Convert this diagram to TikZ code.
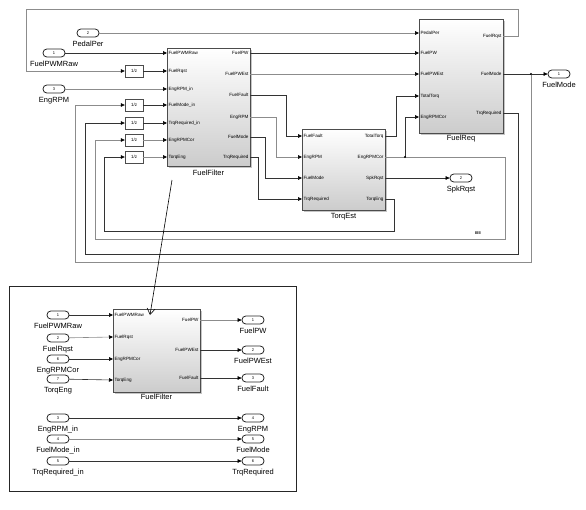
\documentclass[tikz,border=0pt]{standalone}
\usepackage{fontspec}
\setmainfont{Liberation Sans}
\usetikzlibrary{arrows.meta, positioning, shadows}

\begin{document}
\begin{tikzpicture}[
    x=1pt, y=-1pt,
    blk/.style={rectangle, draw=black!70, top color=white, bottom color=black!20, line width=0.5pt,
                drop shadow={shadow xshift=1.8pt, shadow yshift=-1.8pt, fill=black!45}, inner sep=0pt},
    dly/.style={rectangle, draw=black!70, fill=white, minimum width=18pt, minimum height=12pt, inner sep=0pt,
                drop shadow={shadow xshift=1.2pt, shadow yshift=-1.2pt, fill=black!40}, font=\fontsize{4.5}{5}\selectfont},
    prt/.style={rectangle, draw=black!85, fill=white, rounded corners=3.8pt, line width=0.8pt,
                minimum width=22pt, minimum height=8pt, inner sep=0pt, font=\fontsize{4}{4}\selectfont},
    pl/.style={font=\fontsize{4.6}{5}\selectfont, inner sep=1.3pt},
    lbl/.style={font=\fontsize{7.5}{8}\selectfont, inner sep=0.5pt},
    arr/.style={-{Triangle[length=4pt, width=3.6pt, black]}, draw=black!80, line width=0.6pt},
    arrg/.style={arr, draw=black!45},
    dot/.style={circle, fill=black, inner sep=0pt, minimum size=2.4pt}
]
\useasboundingbox (0,0) rectangle (586,509);

% top level model
\node[blk, minimum width=83pt, minimum height=118pt] (ff) at (208.5,107) {};
\node[lbl, below=3pt of ff] (ff-n) {FuelFilter};
\node[blk, minimum width=83pt, minimum height=81pt] (te) at (343.5,169.5) {};
\node[lbl, below=2pt of te] (te-n) {TorqEst};
\node[blk, minimum width=84pt, minimum height=114pt] (fr) at (461,76) {};
\node[lbl, below=1.5pt of fr] (fr-n) {FuelReq};

\coordinate (ff-i1) at (167,53);  \coordinate (ff-i2) at (167,71);  \coordinate (ff-i3) at (167,89);
\coordinate (ff-i4) at (167,105); \coordinate (ff-i5) at (167,123); \coordinate (ff-i6) at (167,140);
\coordinate (ff-i7) at (167,157);
\coordinate (ff-o1) at (250,53);  \coordinate (ff-o2) at (250,74);  \coordinate (ff-o3) at (250,95);
\coordinate (ff-o4) at (250,117); \coordinate (ff-o5) at (250,137); \coordinate (ff-o6) at (250,157);
\coordinate (te-i1) at (302,136); \coordinate (te-i2) at (302,157); \coordinate (te-i3) at (302,178);
\coordinate (te-i4) at (302,199);
\coordinate (te-o1) at (385,136); \coordinate (te-o2) at (385,157); \coordinate (te-o3) at (385,178);
\coordinate (te-o4) at (385,199);
\coordinate (fr-i1) at (419,33);  \coordinate (fr-i2) at (419,53);  \coordinate (fr-i3) at (419,74);
\coordinate (fr-i4) at (419,96);  \coordinate (fr-i5) at (419,117);
\coordinate (fr-o1) at (503,36);  \coordinate (fr-o2) at (503,74);  \coordinate (fr-o3) at (503,113);

\node[pl, anchor=west] (ff-t1) at (ff-i1) {FuelPWMRaw};
\node[pl, anchor=west] (ff-t2) at (ff-i2) {FuelRqst};
\node[pl, anchor=west] (ff-t3) at (ff-i3) {EngRPM\_in};
\node[pl, anchor=west] (ff-t4) at (ff-i4) {FuelMode\_in};
\node[pl, anchor=west] (ff-t5) at (ff-i5) {TrqRequired\_in};
\node[pl, anchor=west] (ff-t6) at (ff-i6) {EngRPMCor};
\node[pl, anchor=west] (ff-t7) at (ff-i7) {TorqEng};
\node[pl, anchor=east] (ff-u1) at (ff-o1) {FuelPW};
\node[pl, anchor=east] (ff-u2) at (ff-o2) {FuelPWEst};
\node[pl, anchor=east] (ff-u3) at (ff-o3) {FuelFault};
\node[pl, anchor=east] (ff-u4) at (ff-o4) {EngRPM};
\node[pl, anchor=east] (ff-u5) at (ff-o5) {FuelMode};
\node[pl, anchor=east] (ff-u6) at (ff-o6) {TrqRequired};
\node[pl, anchor=west] (te-t1) at (te-i1) {FuelFault};
\node[pl, anchor=west] (te-t2) at (te-i2) {EngRPM};
\node[pl, anchor=west] (te-t3) at (te-i3) {FuelMode};
\node[pl, anchor=west] (te-t4) at (te-i4) {TrqRequired};
\node[pl, anchor=east] (te-u1) at (te-o1) {TotalTorq};
\node[pl, anchor=east] (te-u2) at (te-o2) {EngRPMCor};
\node[pl, anchor=east] (te-u3) at (te-o3) {SpkRqst};
\node[pl, anchor=east] (te-u4) at (te-o4) {TorqEng};
\node[pl, anchor=west] (fr-t1) at (fr-i1) {PedalPer};
\node[pl, anchor=west] (fr-t2) at (fr-i2) {FuelPW};
\node[pl, anchor=west] (fr-t3) at (fr-i3) {FuelPWEst};
\node[pl, anchor=west] (fr-t4) at (fr-i4) {TotalTorq};
\node[pl, anchor=west] (fr-t5) at (fr-i5) {EngRPMCor};
\node[pl, anchor=east] (fr-u1) at (fr-o1) {FuelRqst};
\node[pl, anchor=east] (fr-u2) at (fr-o2) {FuelMode};
\node[pl, anchor=east] (fr-u3) at (fr-o3) {TrqRequired};

\node[prt] (pedal) at (88,33) {2};
\node[lbl, below=3pt of pedal] (pedal-l) {PedalPer};
\node[prt] (fpwm) at (54,53) {1};
\node[lbl, below=3pt of fpwm] (fpwm-l) {FuelPWMRaw};
\node[prt] (erpm) at (54,89) {3};
\node[lbl, below=3pt of erpm] (erpm-l) {EngRPM};
\node[prt] (fmode) at (559,74) {1};
\node[lbl, below=3pt of fmode] (fmode-l) {FuelMode};
\node[prt] (spk) at (461,178) {2};
\node[lbl, below=3pt of spk] (spk-l) {SpkRqst};

\node[dly] (d1) at (134,71) {1/z};
\node[dly] (d2) at (134,105) {1/z};
\node[dly] (d3) at (134,123) {1/z};
\node[dly] (d4) at (134,140) {1/z};
\node[dly] (d5) at (134,157) {1/z};

\coordinate (jd1) at (405,157);
\coordinate (jd2) at (531,74);
\node[font=\fontsize{4}{4}\selectfont\bfseries, inner sep=0pt] (mark) at (478,233) {IIIII};

\draw[arrg] (pedal) -- (fr-i1);
\draw[arr] (fpwm) -- (ff-i1);
\draw[arr] (d1) -- (ff-i2);
\draw[arrg] (erpm) -- (ff-i3);
\draw[arr] (d2) -- (ff-i4);
\draw[arr] (d3) -- (ff-i5);
\draw[arrg] (d4) -- (ff-i6);
\draw[arrg] (d5) -- (ff-i7);
\draw[arr] (ff-o1) -- (fr-i2);
\draw[arrg] (ff-o2) -- (fr-i3);
\draw[arr] (ff-o3) -- ++(36,0) |- (te-i1);
\draw[arrg] (ff-o4) -- ++(26,0) |- (te-i2);
\draw[arr] (ff-o5) -- ++(15,0) |- (te-i3);
\draw[arr] (ff-o6) -- ++(8,0) |- (te-i4);
\draw[arr] (te-o1) -- ++(11,0) |- (fr-i4);
\draw[arr] (jd1) |- (fr-i5);
\draw[arr] (te-o3) -- (spk);
\draw[arr] (fr-o2) -- (fmode);
\draw[arrg] (fr-o1) -- ++(15,0) |- (26,9) |- (d1);
\draw[arr] (fr-o3) -- ++(15,0) |- (85,254) |- (d3);
\draw[arrg] (jd2) |- (75,262) |- (d2);
\draw[arrg] (te-o2) -- ++(120,0) |- (95,239) |- (d4);
\draw[arr] (te-o4) -- ++(9,0) |- (104,231) |- (d5);
\node[dot] (jd1-d) at (jd1) {};
\node[dot] (jd2-d) at (jd2) {};

% look under the mask of FuelFilter
\node[draw=black!85, line width=0.8pt, minimum width=287pt, minimum height=205pt, inner sep=0pt] (zoombox) at (152.5,388.5) {};
\node[blk, minimum width=87pt, minimum height=83pt] (ff2) at (156.5,350.5) {};
\node[lbl, below=1.5pt of ff2] (ff2-n) {FuelFilter};

\coordinate (ff2-i1) at (113,315); \coordinate (ff2-i2) at (113,337);
\coordinate (ff2-i3) at (113,359); \coordinate (ff2-i4) at (113,380);
\coordinate (ff2-o1) at (200,320); \coordinate (ff2-o2) at (200,350); \coordinate (ff2-o3) at (200,378);
\node[pl, anchor=west] (ff2-t1) at (ff2-i1) {FuelPWMRaw};
\node[pl, anchor=west] (ff2-t2) at (ff2-i2) {FuelRqst};
\node[pl, anchor=west] (ff2-t3) at (ff2-i3) {EngRPMCor};
\node[pl, anchor=west] (ff2-t4) at (ff2-i4) {TorqEng};
\node[pl, anchor=east] (ff2-u1) at (ff2-o1) {FuelPW};
\node[pl, anchor=east] (ff2-u2) at (ff2-o2) {FuelPWEst};
\node[pl, anchor=east] (ff2-u3) at (ff2-o3) {FuelFault};

\node[prt] (in1) at (58,315) {1};
\node[lbl, below=3pt of in1] (in1-l) {FuelPWMRaw};
\node[prt] (in2) at (58,338) {2};
\node[lbl, below=3pt of in2] (in2-l) {FuelRqst};
\node[prt] (in6) at (58,359) {6};
\node[lbl, below=3pt of in6] (in6-l) {EngRPMCor};
\node[prt] (in7) at (58,379) {7};
\node[lbl, below=3pt of in7] (in7-l) {TorqEng};
\node[prt] (in3) at (58,418) {3};
\node[lbl, below=3pt of in3] (in3-l) {EngRPM\_in};
\node[prt] (in4) at (58,439) {4};
\node[lbl, below=3pt of in4] (in4-l) {FuelMode\_in};
\node[prt] (in5) at (58,461) {5};
\node[lbl, below=3pt of in5] (in5-l) {TrqRequired\_in};

\node[prt] (out1) at (253,320) {1};
\node[lbl, below=3pt of out1] (out1-l) {FuelPW};
\node[prt] (out2) at (253,350) {2};
\node[lbl, below=3pt of out2] (out2-l) {FuelPWEst};
\node[prt] (out3) at (253,378) {3};
\node[lbl, below=3pt of out3] (out3-l) {FuelFault};
\node[prt] (out4) at (253,418) {4};
\node[lbl, below=3pt of out4] (out4-l) {EngRPM};
\node[prt] (out5) at (253,439) {5};
\node[lbl, below=3pt of out5] (out5-l) {FuelMode};
\node[prt] (out6) at (253,461) {6};
\node[lbl, below=3pt of out6] (out6-l) {TrqRequired};

\draw[arr] (in1) -- (ff2-i1);
\draw[arrg] (in2) -- (ff2-i2);
\draw[arr] (in6) -- (ff2-i3);
\draw[arr] (in7) -- (ff2-i4);
\draw[arrg] (ff2-o1) -- (out1);
\draw[arr] (ff2-o2) -- (out2);
\draw[arr] (ff2-o3) -- (out3);
\draw[arr] (in3) -- (out4);
\draw[arrg] (in4) -- (out5);
\draw[arr] (in5) -- (out6);

\coordinate (ptr-a) at (172,180);
\coordinate (ptr-b) at (150,315);
\draw[-{Straight Barb[length=6pt, width=8pt]}, line width=0.6pt] (ptr-a) -- (ptr-b);
\end{tikzpicture}
\end{document}
